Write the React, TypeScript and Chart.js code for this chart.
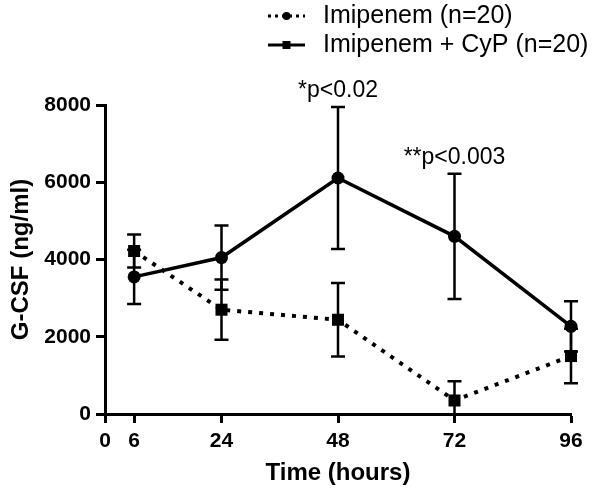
import React, { useEffect, useRef } from 'react';
import { Chart, registerables } from 'chart.js';

Chart.register(...registerables);

// ---- data ----
const timeHours = [6, 24, 48, 72, 96];
const xTickValues = [0, 6, 24, 48, 72, 96];
const yTickValues = [0, 2000, 4000, 6000, 8000];

const imipenemMean = [4220, 2700, 2440, 350, 1500];
const imipenemErr = [430, 780, 950, 495, 705];
const imipenemCypMean = [3550, 4050, 6110, 4600, 2270];
const imipenemCypErr = [700, 830, 1840, 1620, 650];

const seriesLabels = ['Imipenem (n=20)', 'Imipenem + CyP (n=20)'];
const legendMarkers = ['circle', 'rect'];
const legendDashes = [[3, 4], []];

const annotationTimes = [48, 72];
const annotationTexts = ['*p<0.02', '**p<0.003'];

const yTitle = 'G-CSF (ng/ml)';
const xTitle = 'Time (hours)';

const FONT = '"Liberation Sans", Arial, Helvetica, sans-serif';

const errors = [imipenemErr, imipenemCypErr];

const errorBarPlugin = {
  id: 'errorBars',
  beforeDatasetsDraw(chart: any) {
    const { ctx, chartArea } = chart;
    const xs = chart.scales.x;
    const ys = chart.scales.y;
    ctx.save();
    ctx.beginPath();
    ctx.rect(chartArea.left - 10, chartArea.top - 10, chartArea.right - chartArea.left + 20, chartArea.bottom - chartArea.top + 10);
    ctx.clip();
    ctx.strokeStyle = '#000';
    ctx.lineWidth = 2.5;
    chart.data.datasets.forEach((ds: any, di: number) => {
      const errs = errors[di];
      ds.data.forEach((pt: any, i: number) => {
        const x = xs.getPixelForValue(pt.x);
        const hiV = pt.y + errs[i];
        const loV = pt.y - errs[i];
        const yHi = ys.getPixelForValue(hiV);
        const yLo = ys.getPixelForValue(Math.max(loV, 0));
        ctx.beginPath();
        ctx.moveTo(x, yHi);
        ctx.lineTo(x, yLo);
        ctx.moveTo(x - 7, yHi);
        ctx.lineTo(x + 7, yHi);
        if (loV >= 0) {
          ctx.moveTo(x - 7, yLo);
          ctx.lineTo(x + 7, yLo);
        }
        ctx.stroke();
      });
    });
    ctx.restore();
  },
  afterDraw(chart: any) {
    const { ctx } = chart;
    const xs = chart.scales.x;
    const ys = chart.scales.y;
    ctx.save();
    // annotations
    ctx.fillStyle = '#000';
    ctx.font = `23px ${FONT}`;
    ctx.textAlign = 'center';
    ctx.textBaseline = 'middle';
    annotationTimes.forEach((t, k) => {
      const i = timeHours.indexOf(t);
      const top = imipenemCypMean[i] + imipenemCypErr[i];
      ctx.fillText(annotationTexts[k], xs.getPixelForValue(t), ys.getPixelForValue(top) - 16);
    });
    // legend
    const rowsY = [16, 45];
    const lineX0 = 268;
    const lineX1 = 305;
    const textX = 323;
    seriesLabels.forEach((label, k) => {
      const y = rowsY[k];
      ctx.strokeStyle = '#000';
      ctx.lineWidth = 3;
      ctx.setLineDash(legendDashes[k]);
      ctx.beginPath();
      ctx.moveTo(lineX0, y);
      ctx.lineTo(lineX1, y);
      ctx.stroke();
      ctx.setLineDash([]);
      const cx = (lineX0 + lineX1) / 2;
      ctx.fillStyle = '#000';
      ctx.beginPath();
      if (legendMarkers[k] === 'circle') {
        ctx.arc(cx, y, 4, 0, Math.PI * 2);
      } else {
        ctx.rect(cx - 4, y - 4, 8, 8);
      }
      ctx.fill();
      ctx.font = `25px ${FONT}`;
      ctx.textAlign = 'left';
      ctx.textBaseline = 'middle';
      ctx.fillText(label, textX, y);
    });
    ctx.restore();
  },
};

export default function App() {
  const canvasRef = useRef<HTMLCanvasElement | null>(null);

  useEffect(() => {
    const canvas = canvasRef.current;
    if (!canvas) return;
    const chart = new Chart(canvas, {
      type: 'line',
      data: {
        datasets: [
          {
            label: seriesLabels[0],
            data: timeHours.map((t, i) => ({ x: t, y: imipenemMean[i] })),
            borderColor: '#000',
            backgroundColor: '#000',
            borderWidth: 4,
            borderDash: [4, 7],
            borderCapStyle: 'butt',
            pointStyle: 'rect',
            pointRadius: 8.5,
            pointBorderWidth: 0,
            pointBackgroundColor: '#000',
            tension: 0,
            clip: false,
          },
          {
            label: seriesLabels[1],
            data: timeHours.map((t, i) => ({ x: t, y: imipenemCypMean[i] })),
            borderColor: '#000',
            backgroundColor: '#000',
            borderWidth: 3.5,
            pointStyle: 'circle',
            pointRadius: 6.5,
            pointBorderWidth: 0,
            pointBackgroundColor: '#000',
            tension: 0,
            clip: false,
          },
        ],
      },
      options: {
        responsive: false,
        animation: false,
        events: [],
        layout: { padding: { top: 105, right: 31, left: 0, bottom: 0 } },
        plugins: {
          legend: { display: false },
          tooltip: { enabled: false },
        },
        scales: {
          x: {
            type: 'linear',
            min: 0,
            max: 96,
            afterFit: (s: any) => {
              s.height = 80;
            },
            afterBuildTicks: (s: any) => {
              s.ticks = xTickValues.map((v) => ({ value: v }));
            },
            ticks: {
              color: '#000',
              font: { family: FONT, size: 21, weight: 'bold' },
              padding: 6,
              maxRotation: 0,
              autoSkip: false,
              callback: (v: any) => String(v),
            },
            grid: {
              display: true,
              drawOnChartArea: false,
              drawTicks: true,
              tickLength: 9,
              tickWidth: 3,
              tickColor: '#000',
            },
            border: { display: true, color: '#000', width: 3 },
            title: {
              display: true,
              text: xTitle,
              color: '#000',
              font: { family: FONT, size: 24, weight: 'bold' },
              padding: { top: 0, bottom: 6 },
            },
          },
          y: {
            type: 'linear',
            min: 0,
            max: 8000,
            afterFit: (s: any) => {
              s.width = 105;
            },
            afterBuildTicks: (s: any) => {
              s.ticks = yTickValues.map((v) => ({ value: v }));
            },
            ticks: {
              color: '#000',
              font: { family: FONT, size: 21, weight: 'bold' },
              padding: 5,
              autoSkip: false,
              callback: (v: any) => String(v),
            },
            grid: {
              display: true,
              drawOnChartArea: false,
              drawTicks: true,
              tickLength: 9,
              tickWidth: 3,
              tickColor: '#000',
            },
            border: { display: true, color: '#000', width: 3 },
            title: {
              display: true,
              text: yTitle,
              color: '#000',
              font: { family: FONT, size: 24, weight: 'bold' },
              padding: { top: 7, bottom: 0 },
            },
          },
        },
      },
      plugins: [errorBarPlugin],
    } as any);
    return () => chart.destroy();
  }, []);

  return (
    <div style={{ position: 'fixed', left: 0, top: 0, width: 602, height: 494, background: '#fff' }}>
      <canvas ref={canvasRef} width={602} height={494} style={{ display: 'block' }} />
    </div>
  );
}
